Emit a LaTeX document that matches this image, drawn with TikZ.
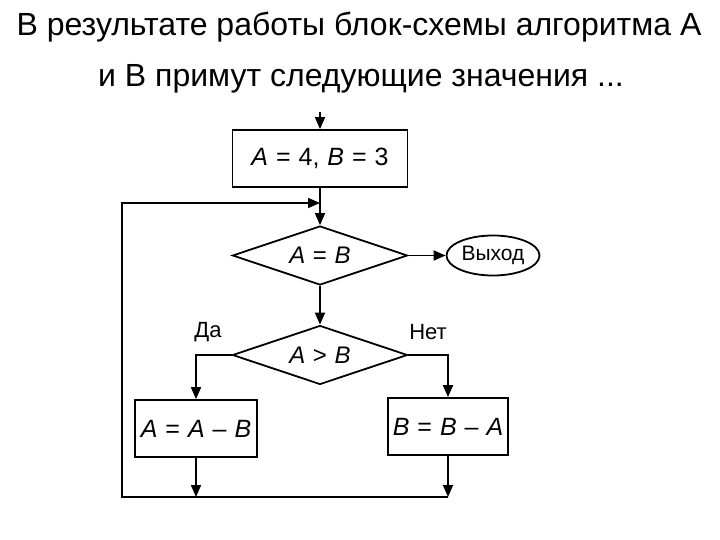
\documentclass[tikz,border=0pt]{standalone}
\usepackage{fontspec}
\setmainfont{Liberation Sans}
\newfontfamily\flowfont[WordSpace=1.15]{Liberation Sans}
\usetikzlibrary{arrows.meta,shapes.geometric}

\begin{document}
\begin{tikzpicture}[x=1pt,y=-1pt]
\tikzset{
  blocknode/.style={rectangle,draw=black,line width=1.8pt,inner sep=1pt,font=\flowfont\fontsize{25}{29}\selectfont},
  decnode/.style={diamond,draw=black,line width=1.8pt,inner sep=0pt,aspect=3,minimum width=175pt,minimum height=59pt,font=\flowfont\fontsize{24}{28}\selectfont},
  exitnode/.style={ellipse,draw=black,line width=1.8pt,inner sep=0pt,minimum width=93pt,minimum height=40pt,font=\fontsize{21}{25}\selectfont},
  branchlabel/.style={inner sep=0pt,font=\fontsize{22}{26}\selectfont},
  titletext/.style={inner sep=0pt,anchor=base,font=\fontsize{32}{38}\selectfont},
  flowedge/.style={draw=black,line width=1.8pt,line join=miter},
  directed/.style={flowedge,-{Triangle[length=12pt,width=10pt]}},
  undirected/.style={flowedge}
}
\useasboundingbox (0,0) rectangle (720,540);
\node[titletext] (n_t1) at (359,36) {В результате работы блок-схемы алгоритма А};
\node[titletext] (n_t2) at (361,87) {и В примут следующие значения ...};
\coordinate (n_in) at (320,112);
\node[blocknode,minimum width=175pt,minimum height=57pt] (n_init) at (320,158.5) {\textit{A} = 4, \textit{B} = 3};
\node[decnode] (n_eq) at (320,255.5) {\textit{A} = \textit{B}};
\node[exitnode] (n_exit) at (493,255.5) {Выход};
\node[decnode] (n_gt) at (320,355) {\textit{A} > \textit{B}};
\node[branchlabel] (n_yes) at (208,332) {Да};
\node[branchlabel] (n_no) at (428,332) {Нет};
\node[blocknode,minimum width=122pt,minimum height=57pt] (n_asub) at (196,428.5) {\textit{A} = \textit{A} – \textit{B}};
\node[blocknode,minimum width=120pt,minimum height=57pt] (n_bsub) at (448,426.5) {\textit{B} = \textit{B} – \textit{A}};
\coordinate (n_ja) at (196,497);
\coordinate (n_jb) at (448,497);
\coordinate (n_lb) at (122,497);
\coordinate (n_lt) at (122,203);
\coordinate (n_jt) at (320,203);
\draw[directed] (n_in) -- (n_init.north);
\draw[directed] (n_init.south) -- (n_eq.north);
\draw[directed] (n_eq.east) -- (n_exit.west);
\draw[directed] (n_eq.south) -- (n_gt.north);
\draw[directed] (n_gt.west) -| (n_asub.north);
\draw[directed] (n_gt.east) -| (n_bsub.north);
\draw[directed] (n_asub.south) -- (n_ja);
\draw[directed] (n_bsub.south) -- (n_jb);
\draw[directed] (n_jb) -- (n_lb) -- (n_lt) -- (n_jt);
\end{tikzpicture}
\end{document}
